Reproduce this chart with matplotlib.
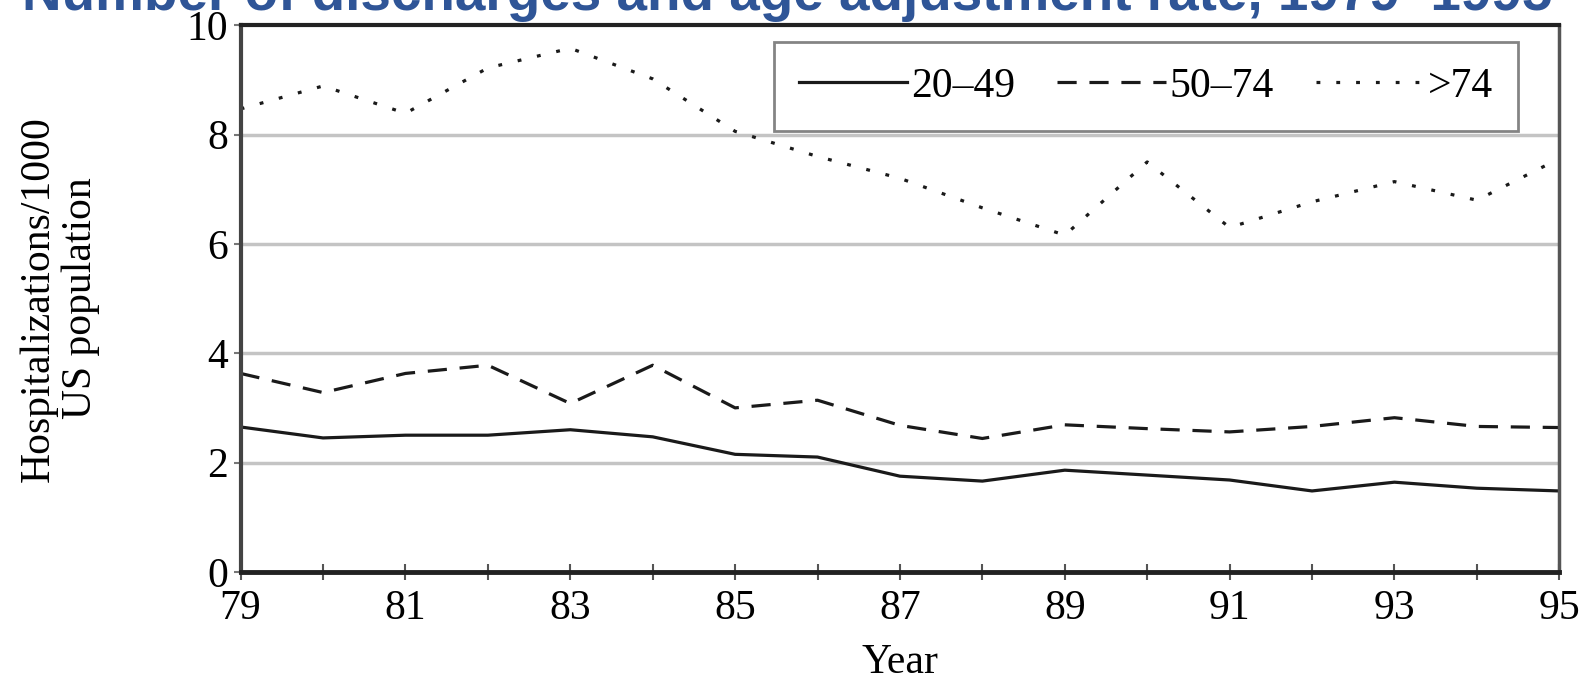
#!/usr/bin/env python3
"""Hospitalization rates by age group, US, 1979-1995."""

import matplotlib
matplotlib.use("Agg")
import matplotlib.pyplot as plt
from matplotlib.ticker import MultipleLocator, FixedLocator

YEARS = list(range(79, 96))

RATE_20_49 = [2.65, 2.45, 2.5, 2.5, 2.6, 2.47, 2.15, 2.1, 1.75, 1.66, 1.86,
              1.77, 1.68, 1.48, 1.64, 1.53, 1.48]
RATE_50_74 = [3.63, 3.28, 3.63, 3.78, 3.08, 3.78, 3.0, 3.14, 2.68, 2.44, 2.69,
              2.62, 2.56, 2.66, 2.82, 2.66, 2.64]
RATE_OVER_74 = [8.47, 8.89, 8.39, 9.22, 9.58, 9.02, 8.06, 7.6, 7.2, 6.66, 6.16,
                7.5, 6.3, 6.77, 7.14, 6.8, 7.56]

SERIES = [
    ("20\u201349", RATE_20_49, "-"),
    ("50\u201374", RATE_50_74, (0, (6, 4))),
    (">74", RATE_OVER_74, (0, (1.2, 5))),
]

TITLE = "Number of discharges and age adjustment rate, 1979\u20131995"
SERIF = ["Liberation Serif", "DejaVu Serif"]
FS = 30


def main():
    plt.rcParams["font.family"] = SERIF
    fig = plt.figure(figsize=(15.83, 6.84), dpi=100)
    ax = fig.add_axes([0.152, 0.164, 0.833, 0.799])

    for label, values, style in SERIES:
        ax.plot(YEARS, values, color="#1a1a1a", linestyle=style,
                linewidth=2.3, label=label)

    ax.set_xlim(79, 95)
    ax.set_ylim(0, 10)
    ax.xaxis.set_major_locator(FixedLocator(range(79, 96, 2)))
    ax.xaxis.set_minor_locator(MultipleLocator(1))
    ax.yaxis.set_major_locator(MultipleLocator(2))
    ax.tick_params(axis="x", which="both", direction="inout", length=12,
                   width=1.5, color="#555555", labelsize=FS, pad=7)
    ax.tick_params(axis="y", direction="out", length=5, width=1.5,
                   color="#777777", labelsize=FS, pad=4)

    for y in (2, 4, 6, 8):
        ax.axhline(y, color="#c4c4c4", linewidth=2.5, zorder=0)

    for side, color, lw in (("left", "#444444", 3), ("bottom", "#222222", 3.5),
                            ("top", "#222222", 3), ("right", "#555555", 2.5)):
        ax.spines[side].set_color(color)
        ax.spines[side].set_linewidth(lw)

    ax.set_xlabel("Year", fontsize=FS, labelpad=11)
    ax.set_ylabel("Hospitalizations/1000\nUS population", fontsize=FS,
                  labelpad=62, linespacing=1.15)

    leg = ax.legend(loc="upper right", bbox_to_anchor=(0.969, 0.969), ncol=3,
                    fontsize=FS, handlelength=2.6, handletextpad=0.1,
                    columnspacing=1.0, frameon=True, fancybox=False,
                    borderpad=0.6, borderaxespad=0)
    leg.get_frame().set_edgecolor("#666666")
    leg.get_frame().set_linewidth(2)

    fig.text(0.497, 0.985, TITLE, ha="center", va="baseline", fontsize=39.5,
             fontweight="bold", color="#2f5597", family="Liberation Sans")

    fig.savefig("out.png", dpi=100)


if __name__ == "__main__":
    main()
